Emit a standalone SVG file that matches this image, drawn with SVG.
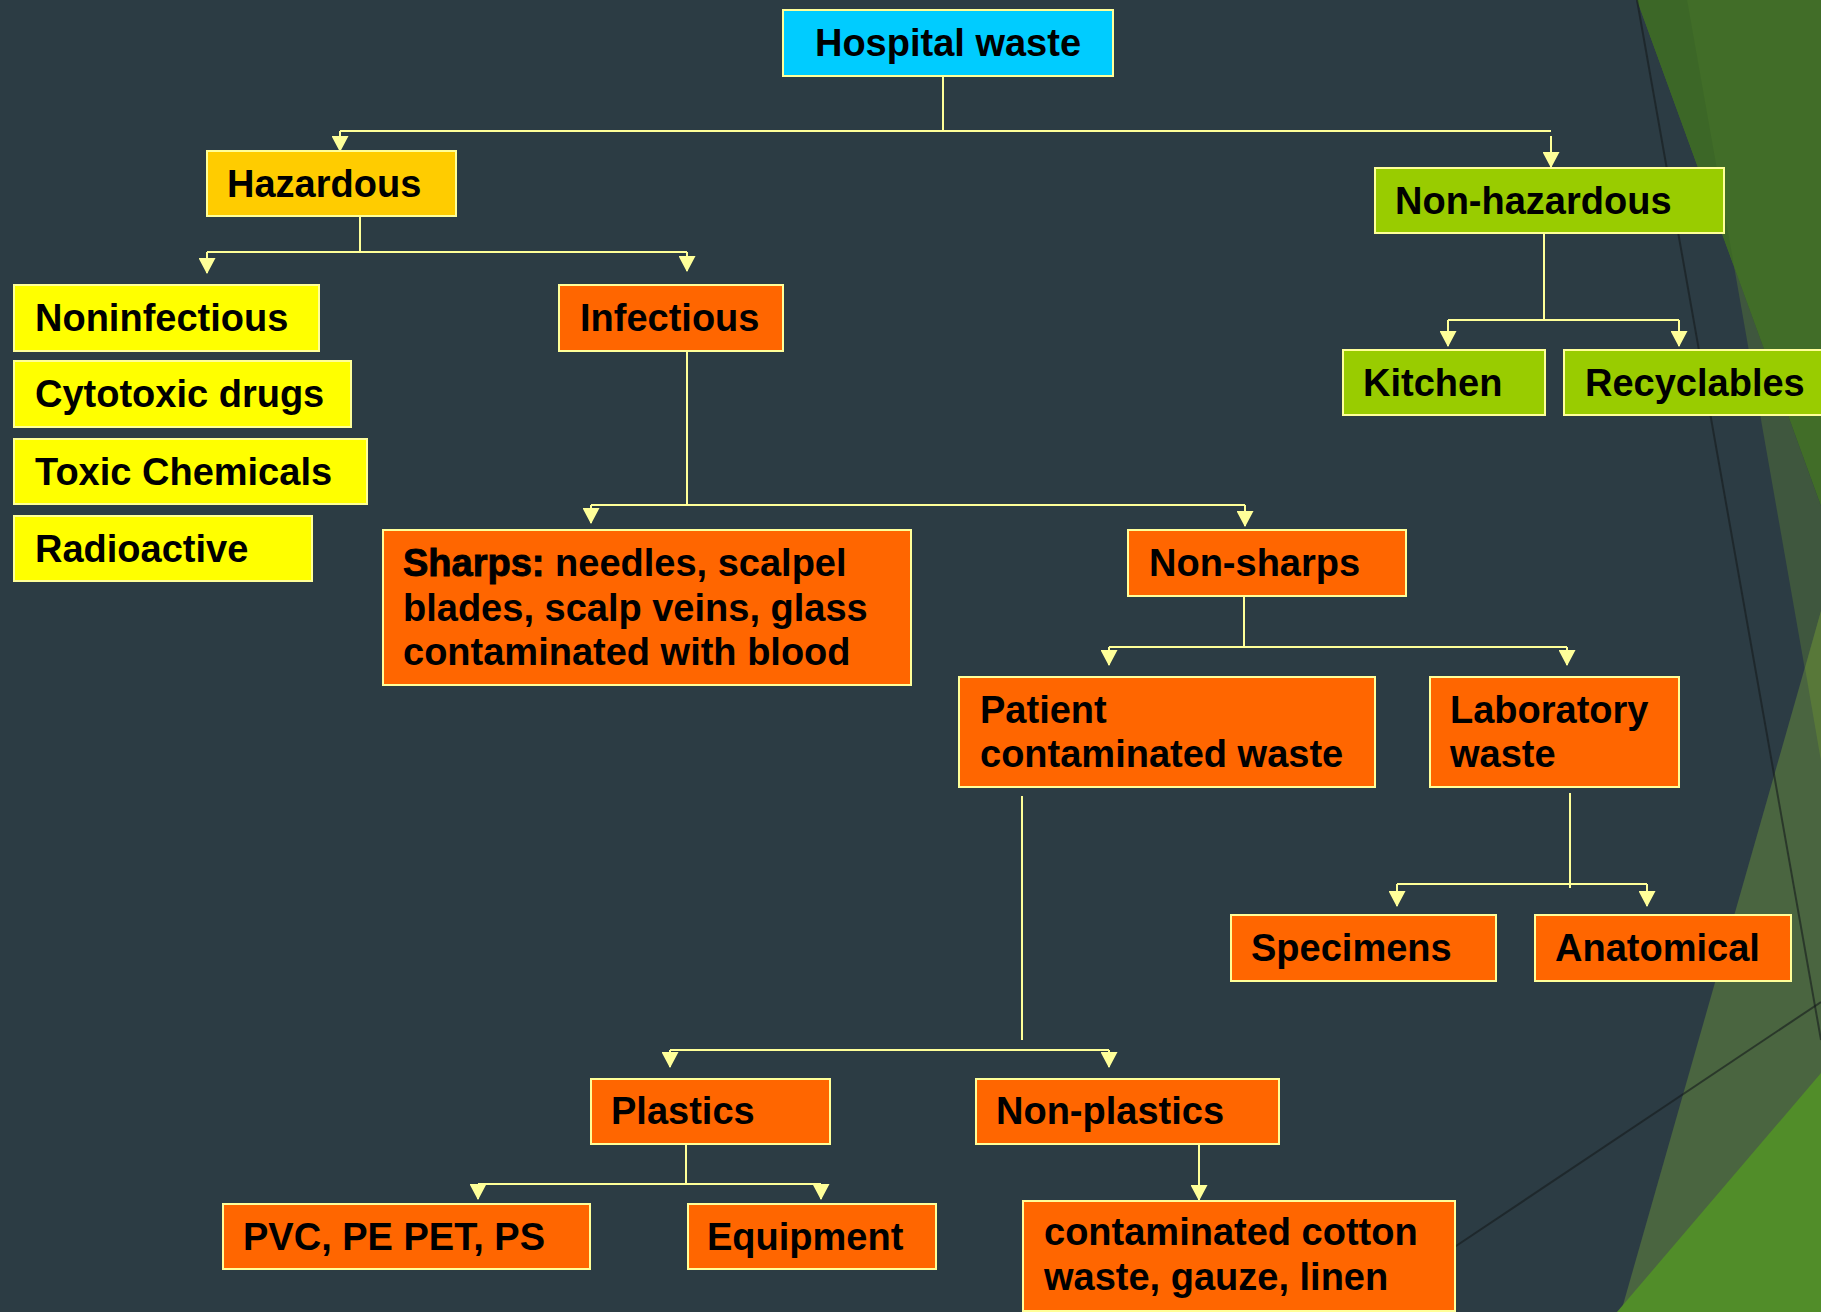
<svg xmlns="http://www.w3.org/2000/svg" width="1821" height="1312" viewBox="0 0 1821 1312">
<defs>
<style>
.box{stroke:#FFFF99;stroke-width:2}
.cyan{fill:#00CCFF}
.amber{fill:#FFCC00}
.yellow{fill:#FFFF00}
.orange{fill:#FF6600}
.green{fill:#99CC00}
text{font-family:"Liberation Sans",Arial,sans-serif;font-weight:bold;font-size:38px;fill:#000}
.conn{fill:none;stroke:#FFFF99;stroke-width:2}
.drop{fill:none;stroke:#FFFF99;stroke-width:2;marker-end:url(#arr)}
.thin{fill:none;stroke:#151a1c;stroke-opacity:0.6;stroke-width:2}
</style>
<marker id="arr" viewBox="0 0 16 17" refX="15" refY="8.5" markerWidth="16" markerHeight="17" markerUnits="userSpaceOnUse" orient="auto">
<path d="M0,0 L16,8.5 L0,17 Z" fill="#FFFF99"/>
</marker>
</defs>
<rect x="0" y="0" width="1821" height="1312" fill="#2C3C44"/>
<g id="decoration">
<polygon points="1734,266 1821,506 1821,761" fill="#3F573E"/>
<polygon points="1637,0 1821,0 1821,506" fill="#416D28"/>
<polygon points="1637,0 1687,0 1734,266" fill="#3C6727"/>
<polygon points="1821,611 1621,1312 1821,1312" fill="#4A6540"/>
<polygon points="1821,611 1805,668 1821,761" fill="#587839"/>
<polygon points="1617,1312 1821,1073 1821,1312" fill="#518D29"/>
<path class="thin" d="M1637,0 L1821,1040"/>
<path class="thin" d="M1450,1250 L1821,1002"/>
</g>
<g id="connectors">
<path class="conn" d="M943,76 V131 M340,131 H1551"/>
<path class="drop" d="M340,131 V151"/>
<path class="drop" d="M1551,136 V167"/>
<path class="conn" d="M1544,233 V320 M1448,320 H1679"/>
<path class="drop" d="M1448,320 V346"/>
<path class="drop" d="M1679,320 V346"/>
<path class="conn" d="M360,216 V252 M207,252 H687"/>
<path class="drop" d="M207,252 V273"/>
<path class="drop" d="M687,252 V271"/>
<path class="conn" d="M687,351 V505 M591,505 H1245"/>
<path class="drop" d="M591,505 V523"/>
<path class="drop" d="M1245,505 V526"/>
<path class="conn" d="M1244,596 V647 M1109,647 H1567"/>
<path class="drop" d="M1109,647 V665"/>
<path class="drop" d="M1567,647 V665"/>
<path class="conn" d="M1022,796 V1040 M670,1050 H1109"/>
<path class="drop" d="M670,1050 V1067"/>
<path class="drop" d="M1109,1050 V1067"/>
<path class="conn" d="M1570,793 V888 M1397,884 H1647"/>
<path class="drop" d="M1397,884 V906"/>
<path class="drop" d="M1647,884 V906"/>
<path class="conn" d="M686,1144 V1184 M478,1184 H821"/>
<path class="drop" d="M478,1184 V1199"/>
<path class="drop" d="M821,1184 V1199"/>
<path class="drop" d="M1199,1144 V1200"/>
</g>
<g id="hospital-waste"><rect class="box cyan" x="783" y="10" width="330" height="66"/><text x="948" y="56" text-anchor="middle">Hospital waste</text></g>
<g id="hazardous"><rect class="box amber" x="207" y="151" width="249" height="65"/><text x="227" y="197">Hazardous</text></g>
<g id="non-hazardous"><rect class="box green" x="1375" y="168" width="349" height="65"/><text x="1395" y="214">Non-hazardous</text></g>
<g id="noninfectious"><rect class="box yellow" x="14" y="285" width="305" height="66"/><text x="35" y="331">Noninfectious</text></g>
<g id="cytotoxic"><rect class="box yellow" x="14" y="361" width="337" height="66"/><text x="35" y="407">Cytotoxic drugs</text></g>
<g id="toxic-chemicals"><rect class="box yellow" x="14" y="439" width="353" height="65"/><text x="35" y="485">Toxic Chemicals</text></g>
<g id="radioactive"><rect class="box yellow" x="14" y="516" width="298" height="65"/><text x="35" y="562">Radioactive</text></g>
<g id="infectious"><rect class="box orange" x="559" y="285" width="224" height="66"/><text x="580" y="331">Infectious</text></g>
<g id="kitchen"><rect class="box green" x="1343" y="350" width="202" height="65"/><text x="1363" y="396">Kitchen</text></g>
<g id="recyclables"><rect class="box green" x="1564" y="350" width="262" height="65"/><text x="1585" y="396">Recyclables</text></g>
<g id="sharps"><rect class="box orange" x="383" y="530" width="528" height="155"/>
<text x="403" y="576"><tspan style="stroke:#000;stroke-width:0.9">Sharps:</tspan> needles, scalpel</text>
<text x="403" y="621">blades, scalp veins, glass</text>
<text x="403" y="665">contaminated with blood</text></g>
<g id="non-sharps"><rect class="box orange" x="1128" y="530" width="278" height="66"/><text x="1149" y="576">Non-sharps</text></g>
<g id="patient-contaminated"><rect class="box orange" x="959" y="677" width="416" height="110"/><text x="980" y="723">Patient</text><text x="980" y="767">contaminated waste</text></g>
<g id="laboratory"><rect class="box orange" x="1430" y="677" width="249" height="110"/><text x="1450" y="723">Laboratory</text><text x="1450" y="767">waste</text></g>
<g id="specimens"><rect class="box orange" x="1231" y="915" width="265" height="66"/><text x="1251" y="961">Specimens</text></g>
<g id="anatomical"><rect class="box orange" x="1535" y="915" width="256" height="66"/><text x="1555" y="961">Anatomical</text></g>
<g id="plastics"><rect class="box orange" x="591" y="1079" width="239" height="65"/><text x="611" y="1124">Plastics</text></g>
<g id="non-plastics"><rect class="box orange" x="976" y="1079" width="303" height="65"/><text x="996" y="1124">Non-plastics</text></g>
<g id="pvc"><rect class="box orange" x="223" y="1204" width="367" height="65"/><text x="243" y="1250">PVC, PE PET, PS</text></g>
<g id="equipment"><rect class="box orange" x="688" y="1204" width="248" height="65"/><text x="707" y="1250">Equipment</text></g>
<g id="contaminated-cotton"><rect class="box orange" x="1023" y="1201" width="432" height="110"/><text x="1044" y="1245">contaminated cotton</text><text x="1044" y="1290">waste, gauze, linen</text></g>
</svg>
